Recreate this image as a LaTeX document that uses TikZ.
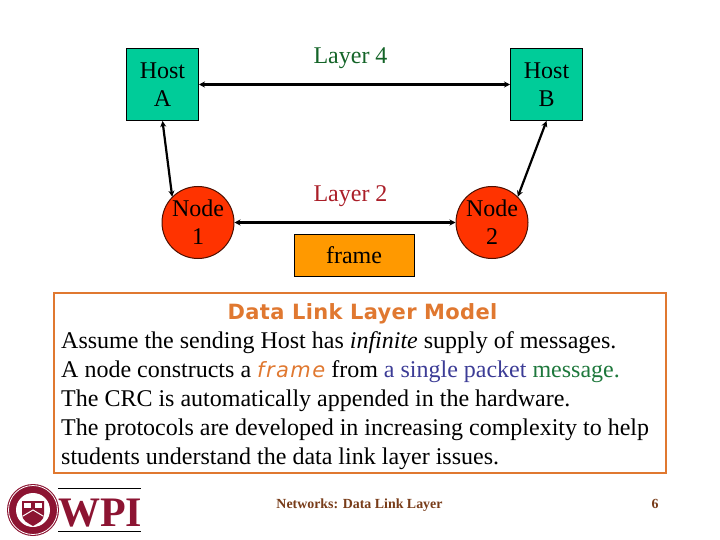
\documentclass[tikz,border=0pt]{standalone}
\usepackage{fontspec}
\setmainfont{Liberation Serif}
\newfontfamily\comicfont[LetterSpace=1.5]{DejaVu Sans}
\newfontfamily\comicwide[LetterSpace=7]{DejaVu Sans}
\usetikzlibrary{arrows.meta}
\definecolor{hostgreen}{RGB}{0,204,153}
\definecolor{nodered}{RGB}{255,51,0}
\definecolor{frameorange}{RGB}{255,153,0}
\definecolor{boxorange}{RGB}{224,120,48}
\definecolor{layergreen}{RGB}{20,100,40}
\definecolor{layerred}{RGB}{170,30,40}
\definecolor{pktblue}{RGB}{60,60,150}
\definecolor{msggreen}{RGB}{30,120,60}
\definecolor{wpired}{RGB}{140,20,50}
\definecolor{footbrown}{RGB}{120,60,25}
\tikzset{
 x=1pt,y=-1pt,
 lbl/.style={font=\fontsize{24}{29}\selectfont,inner sep=0pt},
 hostbox/.style={draw=black,line width=1pt,fill=hostgreen,minimum width=72pt,minimum height=72pt,inner sep=0pt,align=center,font=\fontsize{24}{28}\selectfont},
 noderound/.style={draw=black!70!nodered,line width=1pt,fill=nodered,circle,minimum size=72pt,inner sep=0pt,align=center,font=\fontsize{24}{28}\selectfont},
 link/.style={draw=black,line width=2.2pt,{Stealth[length=6pt,width=6pt]}-{Stealth[length=6pt,width=6pt]}},
 bodyline/.style={anchor=base west,inner sep=0pt,font=\fontsize{24}{29}\selectfont},
 footer/.style={anchor=base,inner sep=0pt,text=footbrown,font=\fontsize{13.9}{17}\selectfont\bfseries},
}
\begin{document}
\begin{tikzpicture}
\useasboundingbox (0,0) rectangle (720,540);
\node[hostbox] (hosta) at (162.5,84.5) {Host\\A};
\node[hostbox] (hostb) at (546.5,84.5) {Host\\B};
\node[noderound] (nodea) at (198,222.5) {Node\\1};
\node[noderound] (nodeb) at (492,222.5) {Node\\2};
\node[draw=black,line width=1pt,fill=frameorange,minimum width=120pt,minimum height=42pt,inner sep=0pt,font=\fontsize{24}{29}\selectfont] (framebox) at (354,255) {\raisebox{-1pt}{frame}};
\node[lbl,text=layergreen] (lfour) at (350.5,58) {Layer 4};
\node[lbl,text=layerred] (ltwo) at (350.5,196) {Layer 2};
\draw[link] (hosta.east) -- (hostb.west);
\draw[link] (nodea.east) -- (nodeb.west);
\draw[link] (hosta.south) -- (nodea.north west);
\draw[link] (hostb.south) -- (nodeb.north east);
\node[draw=boxorange,line width=2pt,minimum width=612pt,minimum height=180pt,inner sep=0pt] (textbox) at (360,383) {};
\node[anchor=base,inner sep=0pt,text=boxorange,font=\comicfont\fontsize{21}{25}\selectfont\bfseries] (title) at (362.5,319) {Data Link Layer Model};
\node[bodyline] (lineb) at (61,348) {Assume the sending Host has \textit{infinite} supply of messages.};
\node[bodyline] (linec) at (61,377) {A node constructs a {\comicwide\itshape\fontsize{21}{25}\selectfont\textcolor{boxorange}{frame}} from {\color{pktblue}a single packet} {\color{msggreen}message.}};
\node[bodyline] (lined) at (61,406) {The CRC is automatically appended in the hardware.};
\node[bodyline] (linee) at (61,435) {The protocols are developed in increasing complexity to help};
\node[bodyline] (linef) at (61,464) {students understand the data link layer issues.};
\node[footer] (foot) at (359.5,508.5) {Networks: Data Link Layer};
\node[footer] (pagenum) at (655,508.5) {6};
% WPI logo
\fill[wpired] (33,510) circle (26);
\draw[white,line width=0.8pt] (33,510) circle (24.5);
\fill[white] (33,510) circle (17);
\fill[wpired] (22,501) -- (44,501) -- (44,514) .. controls (44,521) and (38,523) .. (33,526) .. controls (28,523) and (22,521) .. (22,514) -- cycle;
\fill[white] (24,503) rectangle (31,508);
\fill[white] (35,503) rectangle (42,508);
\draw[white,line width=1pt] (23,516) -- (33,510) -- (43,516);
\draw[black,line width=1pt] (58,488.5) -- (141,488.5);
\draw[black,line width=1pt] (58,531) -- (141,531);
\node[anchor=base west,inner sep=0pt,text=wpired,font=\fontsize{42}{42}\selectfont\bfseries] (wpi) at (58,526) {WPI};
\end{tikzpicture}
\end{document}
